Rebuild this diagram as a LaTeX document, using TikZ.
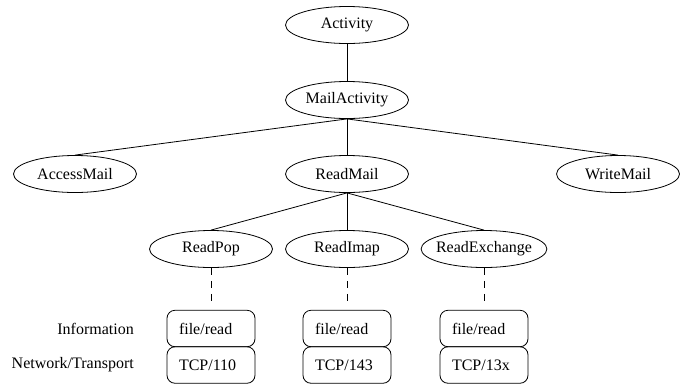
\documentclass[tikz,border=0pt]{standalone}
\usepackage{fontspec}
\setmainfont{Liberation Serif}
\usetikzlibrary{shapes.geometric}
\begin{document}
\begin{tikzpicture}[x=1pt,y=-1pt,
  every node/.style={font=\fontsize{16}{19}\selectfont},
  act/.style={ellipse,draw,line width=0.8pt,minimum width=123pt,minimum height=37pt,inner sep=1pt},
  layerbox/.style={draw,line width=0.8pt,rounded corners=8pt,minimum height=36.5pt,
    text width=64pt,inner xsep=12pt,inner ysep=0pt,align=left},
  layername/.style={anchor=east,inner sep=0pt},
  edge/.style={line width=0.8pt},
  link/.style={line width=0.8pt,dash pattern=on 7pt off 6pt,shorten >=7pt}]
\useasboundingbox (0,0) rectangle (680,384);

% activity tree
\node[act] (act)  at (347,25)  {Activity};
\node[act] (mail) at (347,100) {MailActivity};
\node[act] (acc)  at (75,174)  {AccessMail};
\node[act] (read) at (347,174) {ReadMail};
\node[act] (write) at (618,174) {WriteMail};
\node[act] (pop)  at (211,249) {ReadPop};
\node[act] (imap) at (347,249) {ReadImap};
\node[act,inner xsep=-3.5pt] (exch) at (484,249) {ReadExchange};

\draw[edge] (act) -- (mail);
\draw[edge] (mail.south) -- (acc.north);
\draw[edge] (mail.south) -- (read.north);
\draw[edge] (mail.south) -- (write.north);
\draw[edge] (read.south) -- (pop.north);
\draw[edge] (read.south) -- (imap.north);
\draw[edge] (read.south) -- (exch.north);

% protocol layers
\node[layerbox] (pinfo) at (211,328.5) {file/read};
\node[layerbox] (pnet)  at (211,365) {TCP/110};
\node[layerbox] (iinfo) at (347,328.5) {file/read};
\node[layerbox] (inet)  at (347,365) {TCP/143};
\node[layerbox] (einfo) at (484,328.5) {file/read};
\node[layerbox] (enet)  at (484,365) {TCP/13x};

\node[layername] (linfo) at (134,328.5) {Information};
\node[layername] (lnet)  at (134,365) {Network/Transport};

\draw[link] (pop.south) -- (pinfo.north);
\draw[link] (imap.south) -- (iinfo.north);
\draw[link] (exch.south) -- (einfo.north);
\end{tikzpicture}
\end{document}
